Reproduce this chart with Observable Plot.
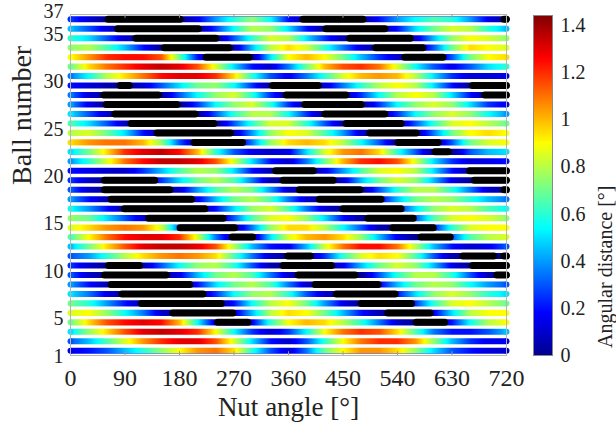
<!DOCTYPE html>
<html><head><meta charset="utf-8">
<script src="https://cdn.jsdelivr.net/npm/d3@7"></script>
<script src="https://cdn.jsdelivr.net/npm/@observablehq/plot@0.6"></script>
<style>
body{margin:0;background:#fff;}
#wrap{position:relative;width:616px;height:430px;font-family:"Liberation Serif","Times New Roman",serif;}
#main{position:absolute;left:0;top:0}
#cbar{position:absolute;left:520px;top:0}
</style></head><body><div id="wrap"><div id="main"></div><div id="cbar"></div></div>
<script>
// Nut angle sample positions (deg)
const angles = [0,30,60,90,120,150,180,210,240,270,300,330,360,390,420,450,480,510,540,570,600,630,660,690,720];
const xTicks = [0,90,180,270,360,450,540,630,720];
const yTicks = [1,5,10,15,20,25,30,35];
const yTopTick = [37];
const cTicks = [0,0.2,0.4,0.6,0.8,1,1.2,1.4];

// angular distance [deg] per ball, read at the angles above
const ball1  = [0.15,0.2,0.3,0.45,0.6,0.75,0.9,1.05,1.1,0.95,0.6,0.3,0.1,0.35,0.7,0.9,1.05,1.05,0.95,0.75,0.5,0.3,0.2,0.12,0.1];
const ball2  = [0.3,0.45,0.65,0.85,1.05,1.2,1.3,1.3,1.15,0.85,0.5,0.2,0.1,0.3,0.6,0.9,1.1,1.2,1.2,1.05,0.75,0.45,0.25,0.15,0.15];
const ball3  = [0.5,0.75,0.95,1.15,1.3,1.35,1.3,1.2,0.9,0.55,0.25,0.1,0.25,0.55,0.9,1.1,1.2,1.15,0.95,0.65,0.35,0.2,0.2,0.3,0.45];
const ball4  = [0.7,0.95,1.15,1.25,1.3,1.25,1.0,0.55,0.1,0,0.15,0.6,0.9,1.0,0.95,0.8,0.6,0.35,0.1,0,0,0.2,0.55,0.8,0.9];
const ball5  = [0.85,0.9,0.75,0.55,0.35,0.1,0,0,0,0.1,0.45,0.8,0.95,0.9,0.7,0.45,0.2,0.05,0,0,0.15,0.5,0.8,0.9,0.9];
const ball6  = [0.7,0.6,0.4,0.2,0.05,0,0,0,0,0.2,0.55,0.8,0.9,0.7,0.4,0.15,0,0,0,0.25,0.6,0.85,0.9,0.8,0.7];
const ball7  = [0.5,0.35,0.15,0,0,0,0,0,0.25,0.55,0.75,0.8,0.6,0.3,0.1,0,0,0,0.2,0.5,0.75,0.85,0.75,0.6,0.5];
const ball8  = [0.4,0.2,0.05,0,0,0,0,0.2,0.5,0.7,0.8,0.65,0.35,0.1,0,0,0,0.15,0.45,0.7,0.8,0.75,0.55,0.4,0.3];
const ball9  = [0.3,0.1,0,0,0,0,0.15,0.45,0.7,0.8,0.65,0.35,0.1,0,0,0,0,0.3,0.6,0.8,0.8,0.6,0.3,0.05,0];
const ball10 = [0.25,0.1,0,0,0.05,0.3,0.55,0.75,0.8,0.6,0.3,0.05,0,0,0,0.15,0.45,0.7,0.85,0.75,0.45,0.15,0,0,0];
const ball11 = [0.3,0.4,0.6,0.8,0.95,1.05,1.1,1.05,0.95,0.65,0.35,0.1,0,0,0.25,0.6,0.85,0.95,0.9,0.65,0.3,0.05,0,0,0];
const ball12 = [0.45,0.7,0.95,1.15,1.3,1.35,1.35,1.3,1.15,0.8,0.45,0.2,0.15,0.45,0.85,1.1,1.25,1.25,1.1,0.8,0.45,0.2,0.1,0.15,0.3];
const ball13 = [0.65,0.9,1.1,1.25,1.3,1.3,1.2,0.85,0.35,0,0,0.5,0.85,1.0,1.05,0.95,0.75,0.45,0.15,0,0,0.3,0.65,0.8,0.85];
const ball14 = [0.85,0.95,1.05,1.1,1.05,0.85,0.3,0,0,0,0.35,0.75,0.95,0.95,0.8,0.55,0.3,0.05,0,0,0.2,0.6,0.85,0.9,0.9];
const ball15 = [0.75,0.7,0.5,0.3,0.1,0,0,0,0,0.3,0.65,0.85,0.9,0.75,0.5,0.2,0.02,0,0,0.3,0.65,0.85,0.9,0.85,0.75];
const ball16 = [0.55,0.4,0.2,0.02,0,0,0,0,0.2,0.5,0.75,0.85,0.65,0.35,0.1,0,0,0,0.2,0.5,0.75,0.85,0.8,0.65,0.55];
const ball17 = [0.4,0.2,0.05,0,0,0,0,0.15,0.45,0.7,0.8,0.65,0.35,0.1,0,0,0,0.15,0.45,0.7,0.8,0.75,0.6,0.45,0.35];
const ball18 = [0.3,0.1,0,0,0,0,0.1,0.4,0.65,0.8,0.7,0.4,0.1,0,0,0,0,0.3,0.6,0.8,0.8,0.6,0.35,0.1,0];
const ball19 = [0.25,0.1,0,0,0,0.25,0.5,0.7,0.8,0.65,0.35,0.05,0,0,0,0.1,0.45,0.7,0.85,0.75,0.45,0.15,0,0,0];
const ball20 = [0.2,0.15,0.1,0.1,0.25,0.45,0.65,0.8,0.75,0.5,0.2,0.05,0,0,0.15,0.4,0.65,0.85,0.9,0.8,0.5,0.2,0,0,0];
const ball21 = [0.4,0.6,0.85,1.1,1.25,1.35,1.35,1.3,1.15,0.85,0.5,0.2,0.1,0.35,0.7,1.0,1.2,1.25,1.15,0.85,0.5,0.25,0.12,0.15,0.2];
const ball22 = [0.5,0.7,0.95,1.2,1.3,1.35,1.25,1.0,0.6,0.3,0.15,0.1,0.15,0.5,0.85,1.05,1.1,0.95,0.6,0.3,0,0,0.3,0.45,0.5];
const ball23 = [0.95,1.05,1.1,1.1,1.0,0.75,0.3,0,0,0,0.35,0.75,0.95,1.0,0.95,0.8,0.55,0.3,0,0,0,0.3,0.7,0.85,0.9];
const ball24 = [0.8,0.85,0.7,0.5,0.2,0,0,0,0,0.05,0.4,0.75,0.9,0.85,0.65,0.4,0.1,0,0,0,0.35,0.7,0.9,0.95,0.9];
const ball25 = [0.65,0.5,0.3,0.08,0,0,0,0,0,0.3,0.6,0.85,0.85,0.6,0.3,0.05,0,0,0,0.3,0.6,0.85,0.9,0.8,0.7];
const ball26 = [0.5,0.3,0.1,0,0,0,0,0,0.3,0.6,0.8,0.8,0.55,0.25,0,0,0,0,0.25,0.55,0.75,0.85,0.75,0.55,0.4];
const ball27 = [0.4,0.15,0,0,0,0,0,0.25,0.55,0.75,0.85,0.6,0.25,0,0,0,0,0.25,0.55,0.75,0.85,0.75,0.5,0.25,0.15];
const ball28 = [0.35,0.12,0,0,0,0.02,0.3,0.55,0.75,0.85,0.6,0.25,0,0,0,0,0.25,0.55,0.8,0.9,0.8,0.5,0.2,0,0];
const ball29 = [0.2,0.12,0.05,0,0.1,0.3,0.5,0.7,0.75,0.55,0.25,0,0,0,0.1,0.35,0.6,0.8,0.9,0.8,0.5,0.2,0,0,0];
const ball30 = [0.35,0.55,0.8,0.95,1.1,1.25,1.3,1.3,1.2,0.95,0.6,0.3,0.15,0.35,0.6,0.85,1.0,1.05,1.0,0.8,0.5,0.25,0.12,0.12,0.15];
const ball31 = [0.7,0.95,1.1,1.2,1.3,1.35,1.3,1.15,0.85,0.5,0.2,0.1,0.35,0.7,1.0,1.15,1.2,1.1,0.85,0.55,0.3,0.15,0.3,0.5,0.6];
const ball32 = [0.9,1.05,1.2,1.25,1.25,1.15,0.7,0.2,0,0,0,0.5,0.9,1.0,0.9,0.7,0.45,0.25,0.1,0,0,0.3,0.7,0.9,0.95];
const ball33 = [0.75,0.8,0.65,0.45,0.2,0,0,0,0,0.05,0.45,0.8,0.95,0.85,0.6,0.35,0.12,0,0,0,0.3,0.7,0.95,0.9,0.85];
const ball34 = [0.6,0.5,0.3,0.1,0,0,0,0,0,0.3,0.6,0.85,0.8,0.5,0.25,0.05,0,0,0,0.1,0.45,0.75,0.9,0.85,0.75];
const ball35 = [0.45,0.3,0.12,0,0,0,0,0,0.25,0.55,0.8,0.75,0.5,0.2,0,0,0,0,0.2,0.5,0.7,0.85,0.8,0.6,0.45];
const ball36 = [0.25,0.12,0,0,0,0,0,0.15,0.4,0.6,0.75,0.55,0.2,0,0,0,0,0.2,0.4,0.55,0.65,0.6,0.4,0.15,0];

const distance = [ball1,ball2,ball3,ball4,ball5,ball6,ball7,ball8,ball9,ball10,ball11,ball12,ball13,ball14,ball15,ball16,ball17,ball18,ball19,ball20,ball21,ball22,ball23,ball24,ball25,ball26,ball27,ball28,ball29,ball30,ball31,ball32,ball33,ball34,ball35,ball36];

// black (lost contact) intervals: ball, from angle, to angle
const blackBall = [36,36,36,35,35,34,34,33,33,32,32,29,29,29,28,28,28,27,27,26,26,25,25,24,24,23,23,22,20,20,19,19,19,18,18,18,17,17,16,16,15,15,14,14,13,13,11,11,11,10,10,10,9,9,9,8,8,7,7,6,6,5,5,4,4];
const blackFrom = [62,384,716,78,422,108,461,155,504,224,552,82,334,664,55,356,684,59,387,73,420,100,455,143,494,204,541,602,339,659,56,351,667,56,378,716,67,411,89,450,129,491,181,532,267,579,359,648,716,63,351,664,56,376,704,67,404,85,439,117,480,169,524,243,571];
const blackTo   = [181,483,720,211,519,240,561,262,582,295,615,97,409,720,145,455,720,176,480,206,519,237,546,264,571,284,607,624,401,720,139,434,720,164,478,720,200,513,222,546,252,566,271,599,301,627,396,699,720,114,431,720,158,470,720,197,508,219,536,249,563,268,594,293,618];

const jetStops = ["#00008f","#0000ff","#00ffff","#ffff00","#ff0000","#800000"];
const jetPos = [0,0.125,0.375,0.625,0.875,1];
const jetScale = d3.scaleLinear().domain(jetPos).range(jetStops).interpolate(d3.interpolateRgb);
const jet = t => jetScale(t);
const cMax = 1.443;

const balls = distance.map((_, i) => i + 1);
const samples = [];
const ends = [];
balls.forEach((b, i) => {
  angles.forEach((a, j) => {
    for (const off of [-0.3, 0.3]) samples.push({angle: a, row: b + 0.5 + off, value: distance[i][j]});
  });
  ends.push({angle: 0, row: b + 0.5, value: distance[i][0]});
  ends.push({angle: 720, row: b + 0.5, value: distance[i][angles.length - 1]});
});
const blacks = blackBall.map((b, i) => ({row: b + 0.5, from: blackFrom[i], to: blackTo[i]}));

const font = "Liberation Serif, Times New Roman, serif";
const tickColor = "#9a9a9a";
const main = Plot.plot({
  width: 616, height: 430,
  marginLeft: 70, marginRight: 110, marginTop: 14, marginBottom: 75,
  style: {fontFamily: font, fontSize: "22px", background: "white", color: "#222"},
  x: {type: "linear", domain: [0, 720]},
  y: {type: "linear", domain: [1, 37]},
  color: {type: "linear", domain: [0, cMax], interpolate: () => jet},
  marks: [
    Plot.raster(samples, {x: "angle", y: "row", fill: "value", interpolate: "barycentric"}),
    Plot.ruleY(d3.range(1, 38), {stroke: "white", strokeWidth: 3.4}),
    Plot.dot(ends, {x: "angle", y: "row", fill: "value", r: 3, stroke: null}),
    Plot.link(blacks, {x1: "from", x2: "to", y1: "row", y2: "row", stroke: "black", strokeWidth: 7, strokeLinecap: "round"}),
    Plot.frame({stroke: "#b5b5b5"}),
    Plot.ruleX(xTicks.slice(1, -1), {y1: 37, y2: 36.6, stroke: tickColor}),
    Plot.ruleX(xTicks.slice(1, -1), {y1: 1, y2: 1.4, stroke: tickColor}),
    Plot.axisX({ticks: xTicks, tickSize: 0, tickPadding: 13, label: null, fontSize: 24}),
    Plot.axisY({ticks: yTicks, tickSize: 0, tickPadding: 7, label: null, fontSize: 20, dy: 1}),
    Plot.axisY({ticks: yTopTick, tickSize: 0, tickPadding: 7, label: null, fontSize: 20, dy: -3}),
    Plot.text(["Nut angle [°]"], {frameAnchor: "bottom", dy: 60, fontSize: 27}),
    Plot.text(["Ball number"], {frameAnchor: "left", dx: -48, rotate: -90, fontSize: 28})
  ]
});
document.getElementById("main").appendChild(main);

const cbar = Plot.plot({
  width: 96, height: 430,
  marginLeft: 13, marginRight: 64, marginTop: 15, marginBottom: 75,
  style: {fontFamily: font, fontSize: "20px", background: "transparent", color: "#222"},
  x: {domain: [0, 1], axis: null},
  y: {domain: [0, cMax]},
  color: {type: "linear", domain: [0, cMax], interpolate: () => jet},
  marks: [
    Plot.raster({x1: 0, x2: 1, y1: 0, y2: cMax, width: 1, height: 400, fill: (x, y) => y}),
    Plot.frame({stroke: "#888"}),
    Plot.axisY({anchor: "right", ticks: cTicks, tickSize: 0, tickPadding: 8, label: null, tickFormat: d => String(+d.toFixed(1)), fontSize: 20}),
    Plot.text(["Angular distance [°]"], {frameAnchor: "right", dx: 53, rotate: -90, fontSize: 20})
  ]
});
document.getElementById("cbar").appendChild(cbar);
</script></body></html>
